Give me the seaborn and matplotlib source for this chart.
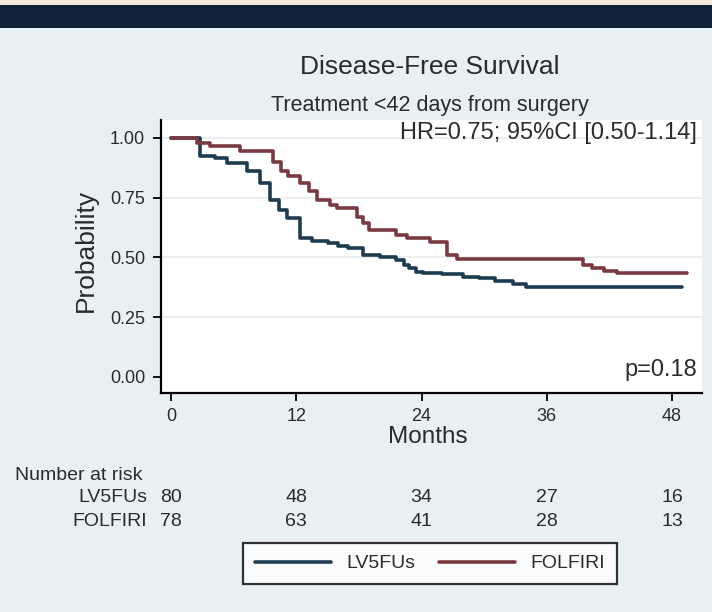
import matplotlib
matplotlib.use("Agg")
import matplotlib.pyplot as plt
import matplotlib.transforms as mtransforms
from matplotlib.patches import Rectangle
import pandas as pd
import seaborn as sns

# Kaplan-Meier steps (months, survival)
months_lv5fu = [0, 2.8, 4.2, 5.4, 7.3, 8.5, 9.5, 10.3, 11.1, 12.4, 13.5, 15.0, 16.0,
                17.0, 18.4, 20.0, 21.6, 22.3, 22.8, 23.5, 24.1, 26.0, 28.0, 29.5,
                31.0, 32.8, 34.0, 49.0]
surv_lv5fu = [1.0, 0.925, 0.915, 0.895, 0.86, 0.81, 0.74, 0.70, 0.665, 0.58, 0.57, 0.56,
              0.55, 0.54, 0.51, 0.50, 0.49, 0.47, 0.455, 0.44, 0.435, 0.43, 0.42, 0.415,
              0.40, 0.39, 0.375, 0.375]

months_folfiri = [0, 2.5, 3.7, 6.6, 9.8, 10.5, 11.2, 12.4, 13.2, 14.0, 15.2, 15.9, 17.8,
                  18.4, 19.0, 21.6, 22.6, 24.8, 26.4, 27.4, 39.5, 40.3, 41.5, 42.7, 49.4]
surv_folfiri = [1.0, 0.98, 0.965, 0.945, 0.90, 0.86, 0.84, 0.81, 0.78, 0.74, 0.72, 0.705,
                0.67, 0.645, 0.615, 0.595, 0.58, 0.565, 0.51, 0.495, 0.47, 0.455, 0.445,
                0.435, 0.435]

arms = ["LV5FUs", "FOLFIRI"]
arm_colors = ["#1d3c4f", "#7a3a41"]

risk_times = [0, 12, 24, 36, 48]
risk_lv5fu = [80, 48, 34, 27, 16]
risk_folfiri = [78, 63, 41, 28, 13]

xtick_vals = [0, 12, 24, 36, 48]
ytick_vals = [0, 0.25, 0.5, 0.75, 1.0]
ytick_labels = ["0.00", "0.25", "0.50", "0.75", "1.00"]

df = pd.concat([
    pd.DataFrame({"month": months_lv5fu, "surv": surv_lv5fu, "arm": arms[0]}),
    pd.DataFrame({"month": months_folfiri, "surv": surv_folfiri, "arm": arms[1]}),
])

sns.set_style("white")
plt.rcParams["font.family"] = ["Liberation Sans", "DejaVu Sans"]
txt = "#2b2b2b"

W, H = 712, 612
fig = plt.figure(figsize=(W / 100, H / 100), dpi=100)
fig.patch.set_facecolor("#e9f0f3")
# top strip and dark band of the slide
fig.patches.append(Rectangle((0, 1 - 5 / H), 1, 5 / H, transform=fig.transFigure,
                             facecolor="#f2eadb", edgecolor="none", zorder=0))
fig.patches.append(Rectangle((0, 1 - 28 / H), 1, 23 / H, transform=fig.transFigure,
                             facecolor="#10233a", edgecolor="none", zorder=0))

ax = fig.add_axes([161 / W, 1 - 393 / H, 541 / W, 273 / H])
ax.set_facecolor("white")

for y in [0.25, 0.5, 0.75, 1.0]:
    ax.axhline(y, color="#e8ecef", lw=1.2, zorder=0)

sns.lineplot(data=df, x="month", y="surv", hue="arm", hue_order=arms,
             palette=arm_colors, drawstyle="steps-post", estimator=None,
             sort=False, lw=2.6, legend=False, ax=ax)
curve_lines = ax.get_lines()[-2:]

ax.set_xlim(-0.96, 50.87)
ax.set_ylim(-0.067, 1.075)
ax.set_xticks(xtick_vals)
ax.set_yticks(ytick_vals)
ax.set_yticklabels(ytick_labels)
ax.set_xlabel("")
ax.set_ylabel("")
for s in ["top", "right"]:
    ax.spines[s].set_visible(False)
for s in ["left", "bottom"]:
    ax.spines[s].set_color("black")
    ax.spines[s].set_linewidth(1.6)
ax.tick_params(axis="both", direction="out", length=5.5, width=1.3, color="black",
               labelsize=13, labelcolor=txt, bottom=True, left=True)
ax.tick_params(axis="y", pad=6)
ax.tick_params(axis="x", pad=5)

fig.text(430 / W, 1 - 67 / H, "Disease-Free Survival", ha="center", va="center",
         fontsize=19, color=txt)
fig.text(430 / W, 1 - 105 / H, "Treatment <42 days from surgery", ha="center",
         va="center", fontsize=15.5, color=txt)
fig.text(697 / W, 1 - 133 / H, "HR=0.75; 95%CI [0.50-1.14]", ha="right", va="center",
         fontsize=17, color=txt)
fig.text(697 / W, 1 - 370 / H, "p=0.18", ha="right", va="center", fontsize=17, color=txt)
fig.text(86 / W, 1 - 250 / H, "Probability", rotation=90, ha="center", va="center",
         fontsize=19, color=txt)
fig.text(428 / W, 1 - 437 / H, "Months", ha="center", va="center", fontsize=17.5,
         color=txt)

# number at risk table
fig.text(15 / W, 1 - 475 / H, "Number at risk", ha="left", va="center", fontsize=14,
         color=txt)
blend = mtransforms.blended_transform_factory(ax.transData, fig.transFigure)
for label, counts, ypx in [(arms[0], risk_lv5fu, 498), (arms[1], risk_folfiri, 522)]:
    fig.text(147 / W, 1 - ypx / H, label, ha="right", va="center", fontsize=14, color=txt)
    for t, n in zip(risk_times, counts):
        ax.text(t, 1 - ypx / H, str(n), transform=blend, ha="center", va="center",
                fontsize=14, color=txt, clip_on=False)

leg = fig.legend(handles=curve_lines, labels=arms,
                 loc="center", bbox_to_anchor=(430 / W, 1 - 563.5 / H), ncol=2,
                 fontsize=14, frameon=True, fancybox=False, handlelength=3.9,
                 handletextpad=0.8, columnspacing=1.2, borderpad=0.6)
leg.get_frame().set_edgecolor("black")
leg.get_frame().set_linewidth(1.6)
leg.get_frame().set_facecolor("white")
for t in leg.get_texts():
    t.set_color(txt)

fig.savefig("out.png", dpi=100, facecolor=fig.get_facecolor())
